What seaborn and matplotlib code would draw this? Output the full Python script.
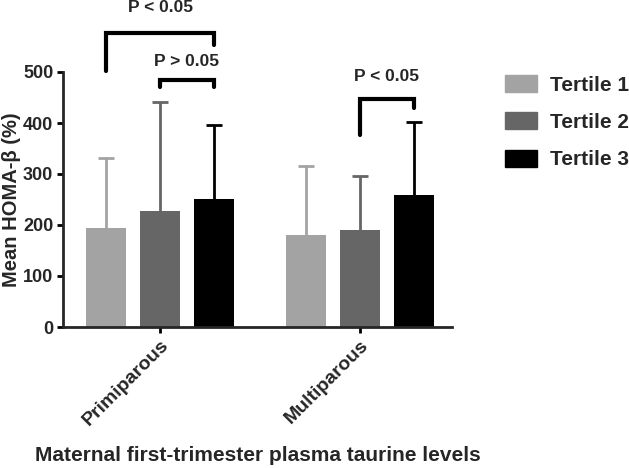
import matplotlib
matplotlib.use("Agg")
import matplotlib.pyplot as plt
from matplotlib.container import BarContainer
import seaborn as sns
import pandas as pd
import numpy as np

groups = ["Primiparous", "Multiparous"]
tertiles = ["Tertile 1", "Tertile 2", "Tertile 3"]
means_primi = [194, 228, 251]
means_multi = [180, 190, 259]
sd_primi = [138, 214, 145]
sd_multi = [136, 106, 142]
colors = ["#a3a3a3", "#666666", "#000000"]

df = pd.DataFrame({
    "group": [g for g in groups for _ in tertiles],
    "tertile": tertiles * 2,
    "mean": means_primi + means_multi,
    "sd": sd_primi + sd_multi,
})

sns.set_style("ticks")
plt.rcParams["font.family"] = ["Liberation Sans", "DejaVu Sans"]
plt.rcParams["font.weight"] = "bold"

fig = plt.figure(figsize=(6.29, 4.68), dpi=100)
ax = fig.add_axes([63/629, 1-327/468, (452-63)/629, (327-72)/468])

sns.barplot(data=df, x="group", y="mean", hue="tertile", order=groups,
            hue_order=tertiles, palette=colors, width=0.81, gap=0.26,
            errorbar=None, saturation=1, ax=ax, edgecolor="none", legend=True)

bar_conts = [c for c in ax.containers if isinstance(c, BarContainer)]
centers = {}
for ci, cont in enumerate(bar_conts):
    for gi, bar in enumerate(cont):
        bar.set_zorder(2)
        x = bar.get_x() + bar.get_width() / 2
        h = bar.get_height()
        sd = df[(df.group == groups[gi]) & (df.tertile == tertiles[ci])]["sd"].iloc[0]
        centers[(gi, ci)] = (x, h, sd)
for (gi, ci), (x, h, sd) in centers.items():
    eb = ax.errorbar(x, h, yerr=[[0], [sd]], color=colors[ci], capsize=6,
                     elinewidth=2, capthick=2, zorder=1)
    eb[1][0].set_visible(False)

ax.set_ylim(0, 500)
ax.set_xlim(-0.485, 1.46)
yt = [0, 100, 200, 300, 400, 500]
ax.set_yticks(yt, labels=[str(v) for v in yt], fontsize=13, fontweight="bold")
ax.set_xticks([0, 1], labels=groups, rotation=45, ha="right",
              rotation_mode="anchor", fontsize=14, fontweight="bold")
ax.tick_params(axis="both", width=2, length=4, color="black", pad=3)
for s in ["left", "bottom"]:
    ax.spines[s].set_linewidth(2)
sns.despine(ax=ax)
ax.set_ylabel("Mean HOMA-β (%)", fontsize=14.5, fontweight="bold")
ax.yaxis.set_label_coords(-0.108, 0.5)
ax.set_xlabel("Maternal first-trimester plasma taurine levels", fontsize=15,
              fontweight="bold")
ax.xaxis.set_label_coords(0.5, -0.465)

def bracket(x1, x2, ytop, yl, yr, text, ty):
    ax.plot([x1, x1, x2, x2], [yl, ytop, ytop, yr], color="black", lw=3,
            clip_on=False, solid_joinstyle="miter")
    ax.text((x1 + x2) / 2, ty, text, ha="center", va="center",
            fontsize=12.5, fontweight="bold", clip_on=False)

x_p1 = centers[(0, 0)][0]; x_p2 = centers[(0, 1)][0]; x_p3 = centers[(0, 2)][0]
x_m2 = centers[(1, 1)][0]; x_m3 = centers[(1, 2)][0]
bracket(x_p1, x_p3, 576, 502, 553, "P < 0.05", 626)
bracket(x_p2, x_p3, 485, 470, 470, "P > 0.05", 520)
bracket(x_m2, x_m3, 447, 376, 429, "P < 0.05", 492)

if ax.get_legend() is not None:
    ax.get_legend().remove()
handles = [plt.Rectangle((0, 0), 1, 1, color=c) for c in colors]
fig.legend(handles, tertiles, loc="upper left",
           bbox_to_anchor=(505/629, 1-75/468), frameon=False,
           prop={"weight": "bold", "size": 15}, handlelength=1.54,
           handleheight=0.87, labelspacing=0.85, handletextpad=0.6,
           borderpad=0, borderaxespad=0)

fig.savefig("out.png", dpi=100)
